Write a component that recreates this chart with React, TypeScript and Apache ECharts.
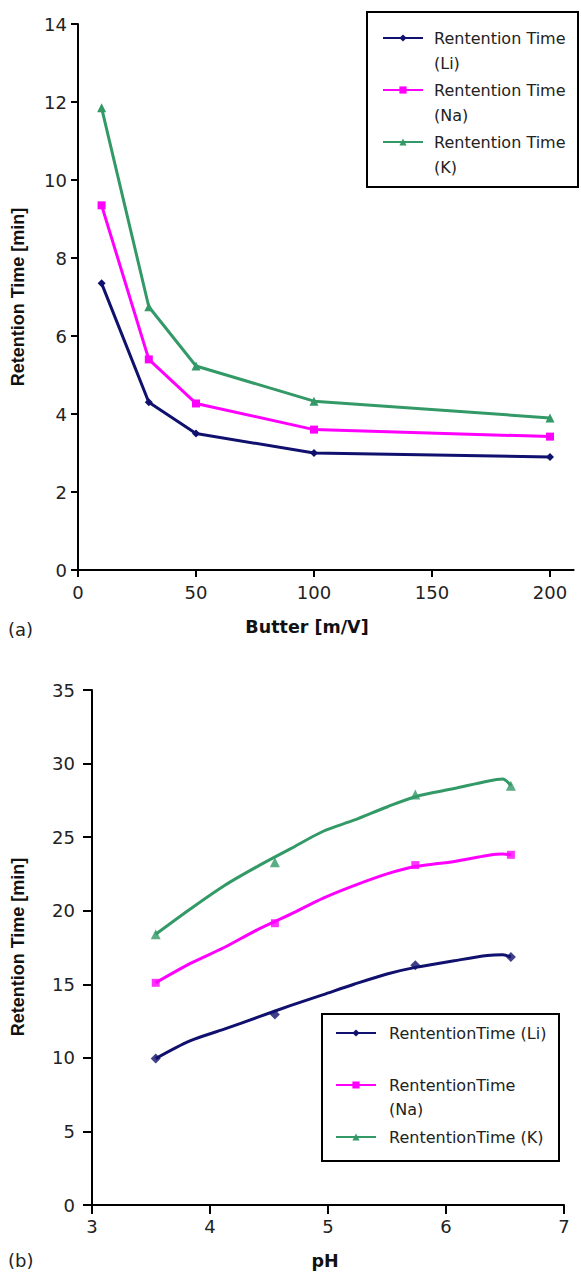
import React, { useEffect, useRef } from "react";
import * as echarts from "echarts";

// ---- Panel (a): retention time vs buffer concentration ----
const bufferConc = [10, 30, 50, 100, 200];
const liA = [7.35, 4.3, 3.5, 3.0, 2.9];
const naA = [9.35, 5.4, 4.27, 3.6, 3.42];
const kA = [11.85, 6.75, 5.23, 4.33, 3.9];
const xTicksA = [0, 50, 100, 150, 200];

// ---- Panel (b): retention time vs pH ----
const phPoints = [3.54, 4.55, 5.74, 6.55];
const liB = [9.95, 12.95, 16.3, 16.85];
const naB = [15.1, 19.15, 23.1, 23.8];
const kB = [18.4, 23.3, 27.9, 28.5];

// trend curves
const phCurve = [3.54, 3.83, 4.12, 4.4, 4.68, 4.96, 5.22, 5.5, 5.74, 6.07, 6.35, 6.48, 6.55];
const liCurve = [9.95, 11.15, 11.95, 12.75, 13.55, 14.3, 15.0, 15.7, 16.15, 16.6, 16.95, 17.0, 16.85];
const naCurve = [15.1, 16.4, 17.5, 18.7, 19.75, 20.85, 21.7, 22.5, 23.0, 23.35, 23.75, 23.85, 23.8];
const kCurve = [18.4, 20.1, 21.7, 23.0, 24.2, 25.4, 26.15, 27.05, 27.75, 28.3, 28.8, 28.95, 28.5];

const namesA = ["Rentention Time\n(Li)", "Rentention Time\n(Na)", "Rentention Time\n(K)"];
const namesB = ["RententionTime (Li)", "RententionTime\n(Na)", "RententionTime (K)"];

const LI = "#10106e";
const NA = "#ff00ff";
const K = "#339966";

const pairs = (xs: number[], ys: number[]) => xs.map((x, i) => [x, ys[i]]);
// multi-line legend labels: keep the icon level with the first line
const firstLineOnIcon = (name: string) => (name.indexOf("\n") >= 0 ? "\n" + name : name);

export default function App() {
  const ref = useRef<HTMLDivElement>(null);
  useEffect(() => {
    if (!ref.current) return;
    const chart = echarts.init(ref.current, null, { renderer: "svg" });
    const axisCommon = {
      type: "value",
      splitLine: { show: false },
      axisLine: { show: true, lineStyle: { color: "#000", width: 2 } },
      axisTick: { show: true, length: 7, lineStyle: { color: "#000", width: 2 } },
      axisLabel: { color: "#222", fontSize: 18, fontFamily: "DejaVu Sans" },
    };
    const option: any = {
      animation: false,
      textStyle: { fontFamily: "DejaVu Sans" },
      grid: [
        { left: 78, top: 24, width: 495.6, height: 546 },
        { left: 92, top: 690, width: 472, height: 515 },
      ],
      xAxis: [
        {
          ...axisCommon,
          gridIndex: 0,
          min: 0,
          max: 210,
          axisTick: { ...axisCommon.axisTick, customValues: xTicksA },
          axisLabel: { ...axisCommon.axisLabel, margin: 13, customValues: xTicksA },
        },
        {
          ...axisCommon,
          gridIndex: 1,
          min: 3,
          max: 7,
          interval: 1,
          axisTick: { ...axisCommon.axisTick, length: 9 },
          axisLabel: { ...axisCommon.axisLabel, margin: 12 },
        },
      ],
      yAxis: [
        {
          ...axisCommon,
          gridIndex: 0,
          min: 0,
          max: 14,
          interval: 2,
          axisLabel: { ...axisCommon.axisLabel, margin: 11 },
        },
        {
          ...axisCommon,
          gridIndex: 1,
          min: 0,
          max: 35,
          interval: 5,
          axisTick: { ...axisCommon.axisTick, length: 9 },
          axisLabel: { ...axisCommon.axisLabel, margin: 17 },
        },
      ],
      legend: [
        {
          left: 382,
          top: 0.5,
          orient: "vertical",
          padding: 0,
          itemWidth: 40,
          itemHeight: 9,
          itemGap: -23,
          formatter: firstLineOnIcon,
          textStyle: { fontSize: 16, color: "#222", lineHeight: 25, padding: [0, 0, 0, 6] },
          data: namesA,
        },
        {
          left: 335,
          top: 1021,
          orient: "vertical",
          padding: 0,
          itemWidth: 40,
          itemHeight: 9,
          itemGap: 4,
          formatter: firstLineOnIcon,
          textStyle: { fontSize: 16, color: "#222", lineHeight: 24, padding: [0, 0, 0, 8] },
          data: namesB,
        },
      ],
      graphic: [
        {
          type: "rect",
          shape: { x: 367, y: 12, width: 211, height: 175 },
          style: { fill: "none", stroke: "#000", lineWidth: 2 },
        },
        {
          type: "rect",
          shape: { x: 322, y: 1014, width: 237, height: 147 },
          style: { fill: "none", stroke: "#000", lineWidth: 2 },
        },
        {
          type: "text",
          x: 18,
          y: 297,
          rotation: Math.PI / 2,
          style: { text: "Retention Time [min]", font: "bold 18px 'Liberation Sans'", fill: "#111", align: "center", verticalAlign: "middle" },
        },
        {
          type: "text",
          x: 18,
          y: 947,
          rotation: Math.PI / 2,
          style: { text: "Retention Time [min]", font: "bold 18px 'Liberation Sans'", fill: "#111", align: "center", verticalAlign: "middle" },
        },
        {
          type: "text",
          x: 307,
          y: 627,
          style: { text: "Butter [m/V]", font: "bold 17.5px 'DejaVu Sans'", fill: "#111", align: "center", verticalAlign: "middle" },
        },
        {
          type: "text",
          x: 325,
          y: 1261,
          style: { text: "pH", font: "bold 17.5px 'DejaVu Sans'", fill: "#111", align: "center", verticalAlign: "middle" },
        },
        {
          type: "text",
          x: 8,
          y: 629,
          style: { text: "(a)", font: "18px 'DejaVu Sans'", fill: "#222", align: "left", verticalAlign: "middle" },
        },
        {
          type: "text",
          x: 8,
          y: 1260,
          style: { text: "(b)", font: "18px 'DejaVu Sans'", fill: "#222", align: "left", verticalAlign: "middle" },
        },
      ],
      series: [
        {
          name: namesA[0], type: "line", xAxisIndex: 0, yAxisIndex: 0,
          data: pairs(bufferConc, liA), symbol: "diamond", symbolSize: 8,
          lineStyle: { color: LI, width: 3 }, itemStyle: { color: LI },
        },
        {
          name: namesA[1], type: "line", xAxisIndex: 0, yAxisIndex: 0,
          data: pairs(bufferConc, naA), symbol: "rect", symbolSize: 8,
          lineStyle: { color: NA, width: 3 }, itemStyle: { color: NA },
        },
        {
          name: namesA[2], type: "line", xAxisIndex: 0, yAxisIndex: 0,
          data: pairs(bufferConc, kA), symbol: "triangle", symbolSize: 9,
          lineStyle: { color: K, width: 3 }, itemStyle: { color: K },
        },
        {
          name: namesB[0], type: "line", xAxisIndex: 1, yAxisIndex: 1, smooth: 0.3,
          data: pairs(phCurve, liCurve), symbol: "diamond", showSymbol: false,
          lineStyle: { color: LI, width: 3 }, itemStyle: { color: LI },
        },
        {
          name: namesB[1], type: "line", xAxisIndex: 1, yAxisIndex: 1, smooth: 0.3,
          data: pairs(phCurve, naCurve), symbol: "rect", showSymbol: false,
          lineStyle: { color: NA, width: 3 }, itemStyle: { color: NA },
        },
        {
          name: namesB[2], type: "line", xAxisIndex: 1, yAxisIndex: 1, smooth: 0.3,
          data: pairs(phCurve, kCurve), symbol: "triangle", showSymbol: false,
          lineStyle: { color: K, width: 3 }, itemStyle: { color: K },
        },
        {
          name: "Li points", type: "scatter", xAxisIndex: 1, yAxisIndex: 1,
          data: pairs(phPoints, liB), symbol: "diamond", symbolSize: 10, itemStyle: { color: LI },
        },
        {
          name: "Na points", type: "scatter", xAxisIndex: 1, yAxisIndex: 1,
          data: pairs(phPoints, naB), symbol: "rect", symbolSize: 8, itemStyle: { color: NA },
        },
        {
          name: "K points", type: "scatter", xAxisIndex: 1, yAxisIndex: 1,
          data: pairs(phPoints, kB), symbol: "triangle", symbolSize: 10, itemStyle: { color: K },
        },
      ],
    };
    chart.setOption(option);
    return () => chart.dispose();
  }, []);
  return (
    <div
      ref={ref}
      style={{ position: "absolute", left: 0, top: 0, width: 581, height: 1273, background: "#fff" }}
    />
  );
}
